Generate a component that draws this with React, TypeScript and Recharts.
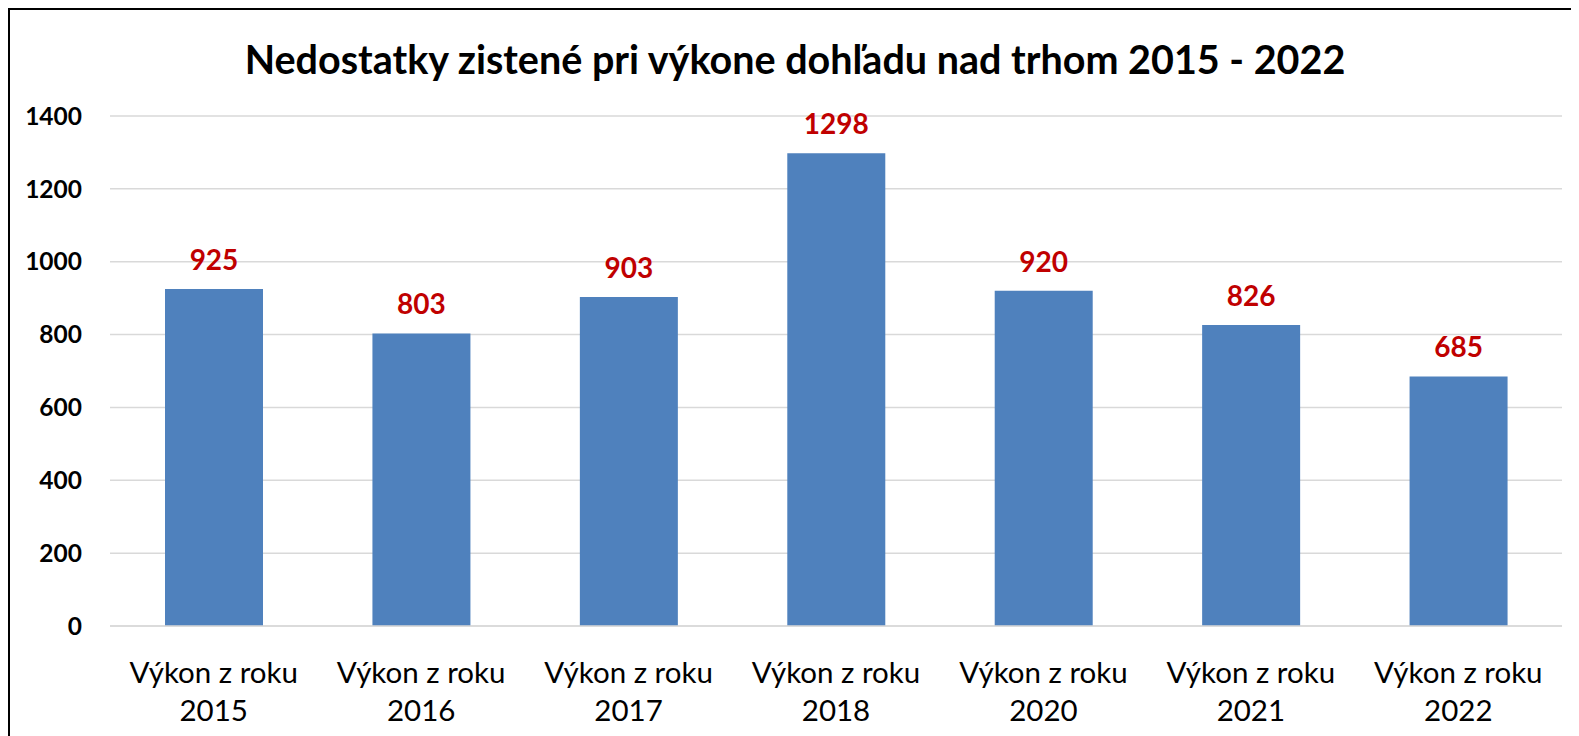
import { Bar, BarChart, CartesianGrid, LabelList, XAxis, YAxis } from "recharts";

const years = ["2015", "2016", "2017", "2018", "2020", "2021", "2022"];
const defects = [925, 803, 903, 1298, 920, 826, 685];
const yTicks = [0, 200, 400, 600, 800, 1000, 1200, 1400];

const data = years.map((year, i) => ({ name: "Výkon z roku " + year, year, value: defects[i] }));

const FONT = "Lato, 'Open Sans', sans-serif";

function YearTick(props: any) {
    const { x, y, payload } = props;
    const year = payload.value.replace("Výkon z roku ", "");
    return (
        <g transform={`translate(${x},${y})`}>
            <text textAnchor="middle" fontFamily={FONT} fontSize={29.5} fill="#000">
                <tspan x={0} dy={49}>Výkon z roku</tspan>
                <tspan x={0} dy={38}>{year}</tspan>
            </text>
        </g>
    );
}

export default function App() {
    return (
        <div style={{ position: "relative", width: 1571, height: 728, overflow: "hidden" }}>
            <div
                style={{
                    position: "absolute",
                    left: 0,
                    top: 0,
                    width: 1600,
                    height: 760,
                    borderLeft: "2px solid #000",
                    borderTop: "2px solid #000",
                }}
            />
            <div
                style={{
                    position: "absolute",
                    left: 2,
                    top: 2,
                    width: 1569,
                    textAlign: "left",
                }}
            >
                <div
                    style={{
                        position: "absolute",
                        left: 0,
                        top: 28,
                        width: 1570,
                        textAlign: "center",
                        fontFamily: FONT,
                        fontWeight: 700,
                        fontSize: 39.5,
                        color: "#000",
                        lineHeight: "42px",
                    }}
                >
                    Nedostatky zistené pri výkone dohľadu nad trhom 2015 - 2022
                </div>
                <BarChart
                    width={1569}
                    height={726}
                    data={data}
                    margin={{ top: 106, right: 17, bottom: 0, left: 0 }}
                    barSize={98}
                >
                    <CartesianGrid vertical={false} stroke="#D9D9D9" strokeWidth={1.5} />
                    <XAxis
                        dataKey="name"
                        height={110}
                        tickLine={false}
                        axisLine={{ stroke: "#D9D9D9", strokeWidth: 1.5 }}
                        tick={<YearTick />}
                        interval={0}
                    />
                    <YAxis
                        width={100}
                        domain={[0, 1400]}
                        ticks={yTicks}
                        tickLine={false}
                        axisLine={false}
                        tickSize={0}
                        tickMargin={28}
                        tick={{ fontFamily: FONT, fontSize: 24.5, fontWeight: 700, fill: "#000" }}
                    />
                    <Bar dataKey="value" fill="#4F81BD" isAnimationActive={false}>
                        <LabelList
                            dataKey="value"
                            position="top"
                            offset={19}
                            fill="#C00000"
                            fontFamily={FONT}
                            fontWeight={700}
                            fontSize={28}
                        />
                    </Bar>
                </BarChart>
            </div>
        </div>
    );
}
